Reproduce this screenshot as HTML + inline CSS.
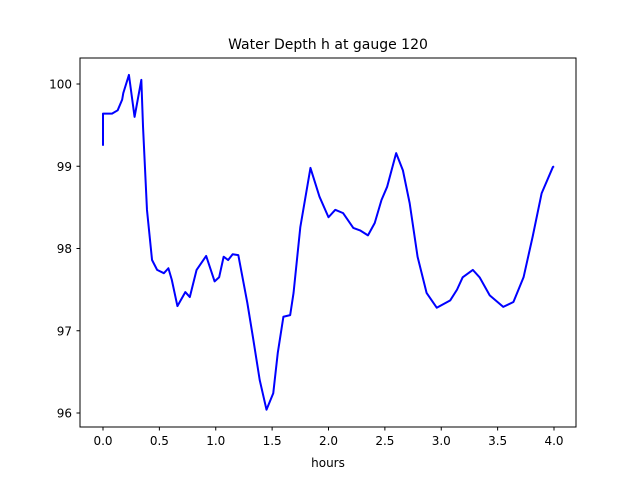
<!DOCTYPE html>
<html><head><meta charset="utf-8"><style>
body{margin:0;background:#fff;}
svg{display:block;font-family:"DejaVu Sans","Liberation Sans",sans-serif;}
</style></head><body>
<svg id="chart" width="640" height="480">
<rect x="0" y="0" width="640" height="480" fill="#fff"/>
<text x="328" y="49" font-size="14" text-anchor="middle">Water Depth h at gauge 120</text>
<g id="plot"></g>
<rect x="80" y="58" width="496" height="369" fill="none" stroke="#000" stroke-width="1"/>
<text x="328" y="467" font-size="12" text-anchor="middle">hours</text>
</svg>
<script>
const times=[0,0,0.08,0.13,0.17,0.18,0.23,0.28,0.34,0.355,0.39,0.435,0.48,0.54,0.58,0.61,0.66,0.73,0.77,0.83,0.915,0.99,1.03,1.07,1.11,1.15,1.20,1.28,1.33,1.39,1.45,1.51,1.55,1.60,1.66,1.69,1.75,1.84,1.92,2.00,2.06,2.13,2.22,2.28,2.35,2.41,2.47,2.52,2.60,2.66,2.72,2.79,2.87,2.96,3.08,3.14,3.19,3.28,3.34,3.43,3.55,3.64,3.73,3.81,3.89,3.99,4.0];
const depths=[99.25,99.64,99.64,99.68,99.81,99.89,100.11,99.6,100.05,99.48,98.47,97.86,97.74,97.70,97.76,97.62,97.30,97.47,97.41,97.74,97.91,97.6,97.65,97.9,97.86,97.93,97.92,97.34,96.92,96.40,96.04,96.24,96.73,97.17,97.19,97.46,98.26,98.98,98.63,98.38,98.47,98.43,98.25,98.22,98.16,98.31,98.59,98.75,99.16,98.95,98.55,97.90,97.46,97.28,97.37,97.50,97.65,97.74,97.65,97.43,97.29,97.35,97.65,98.14,98.67,98.99,99.0];
const xTicks=[0,0.5,1,1.5,2,2.5,3,3.5,4];
const xTickLabels=["0.0","0.5","1.0","1.5","2.0","2.5","3.0","3.5","4.0"];
const yTicks=[96,97,98,99,100];
const yTickLabels=["96","97","98","99","100"];
const NS="http://www.w3.org/2000/svg";
function xs(t){return 103+t*112.75;}
function ys(h){return 84+(100-h)*82.25;}
const g=document.getElementById('plot');
xTicks.forEach((t,i)=>{
 const l=document.createElementNS(NS,'line');
 
 
 l.setAttribute('x1',xs(t));l.setAttribute('x2',xs(t));l.setAttribute('y1',427);l.setAttribute('y2',430.5);l.setAttribute('stroke','#000');
 g.appendChild(l);
 const tx=document.createElementNS(NS,'text');
 
 
 tx.setAttribute('x',xs(t));tx.setAttribute('y',445);tx.setAttribute('font-size','12');tx.setAttribute('text-anchor','middle');
 tx.textContent=xTickLabels[i];g.appendChild(tx);
});
yTicks.forEach((v,i)=>{
 const l=document.createElementNS(NS,'line');
 
 
 l.setAttribute('x1',76.5);l.setAttribute('x2',80);l.setAttribute('y1',ys(v));l.setAttribute('y2',ys(v));l.setAttribute('stroke','#000');
 g.appendChild(l);
 const tx=document.createElementNS(NS,'text');
 
 
 tx.setAttribute('x',72);tx.setAttribute('y',ys(v)+4.5);tx.setAttribute('font-size','12');tx.setAttribute('text-anchor','end');
 tx.textContent=yTickLabels[i];g.appendChild(tx);
});
const p=document.createElementNS(NS,'polyline');


p.setAttribute('points',times.map((t,i)=>xs(t)+','+ys(depths[i])).join(' '));
p.setAttribute('fill','none');p.setAttribute('stroke','#0000ff');p.setAttribute('stroke-width','2');p.setAttribute('stroke-linejoin','round');
g.appendChild(p);
</script>
</body></html>
